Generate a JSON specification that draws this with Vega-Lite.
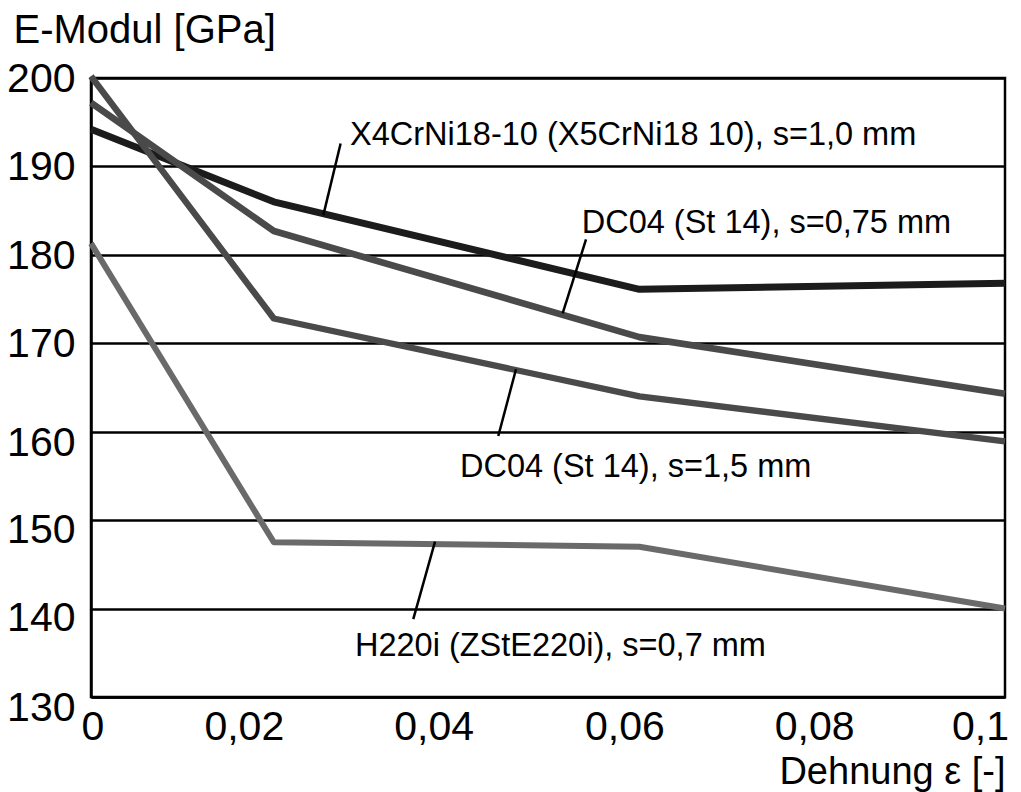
{
  "$schema": "https://vega.github.io/schema/vega-lite/v6.json",
  "autosize": {"type": "none"},
  "width": 914,
  "height": 619,
  "padding": {"left": 91, "top": 78, "right": 16, "bottom": 95},
  "background": "white",
  "config": {
    "view": {"stroke": "black", "strokeWidth": 2.5},
    "font": "Liberation Sans",
    "axis": {"labelFont": "Liberation Sans", "titleFont": "Liberation Sans", "labelColor": "black", "titleColor": "black", "titleFontWeight": "normal"}
  },
  "datasets": {
    "curves": [
      {"series": "X4CrNi18-10", "eps": 0, "E": 194.2},
      {"series": "X4CrNi18-10", "eps": 0.02, "E": 186.0},
      {"series": "X4CrNi18-10", "eps": 0.06, "E": 176.1},
      {"series": "X4CrNi18-10", "eps": 0.1, "E": 176.8},
      {"series": "DC04 0,75", "eps": 0, "E": 197.2},
      {"series": "DC04 0,75", "eps": 0.02, "E": 182.7},
      {"series": "DC04 0,75", "eps": 0.06, "E": 170.7},
      {"series": "DC04 0,75", "eps": 0.1, "E": 164.3},
      {"series": "DC04 1,5", "eps": 0, "E": 200.2},
      {"series": "DC04 1,5", "eps": 0.02, "E": 172.8},
      {"series": "DC04 1,5", "eps": 0.06, "E": 164.0},
      {"series": "DC04 1,5", "eps": 0.1, "E": 158.9},
      {"series": "H220i", "eps": 0, "E": 181.3},
      {"series": "H220i", "eps": 0.02, "E": 147.5},
      {"series": "H220i", "eps": 0.06, "E": 147.0},
      {"series": "H220i", "eps": 0.1, "E": 140.0}
    ],
    "labels": [
      {"label": "X4CrNi18-10 (X5CrNi18 10), s=1,0 mm", "eps": 0.02834, "E": 192.4},
      {"label": "DC04 (St 14), s=0,75 mm", "eps": 0.05369, "E": 182.42},
      {"label": "DC04 (St 14), s=1,5 mm", "eps": 0.04037, "E": 154.92},
      {"label": "H220i (ZStE220i), s=0,7 mm", "eps": 0.02888, "E": 134.58}
    ],
    "leaders": [
      {"eps": 0.02731, "E": 192.59, "eps2": 0.02542, "E2": 184.49},
      {"eps": 0.05416, "E": 181.74, "eps2": 0.0516, "E2": 173.38},
      {"eps": 0.0465, "E": 167.06, "eps2": 0.04456, "E2": 159.52},
      {"eps": 0.03764, "E": 147.58, "eps2": 0.03526, "E2": 138.81}
    ]
  },
  "layer": [
    {
      "data": {"name": "curves"},
      "mark": {"type": "line", "strokeJoin": "round", "strokeCap": "butt"},
      "encoding": {
        "x": {
          "field": "eps", "type": "quantitative",
          "scale": {"domain": [0, 0.1], "nice": false, "zero": false},
          "axis": {
            "values": [0, 0.02, 0.04, 0.06, 0.08, 0.1],
            "labelExpr": "replace(format(datum.value, '~g'), '.', ',')",
            "grid": false,
            "ticks": false,
            "domainColor": "black",
            "domainWidth": 2.5,
            "labelFontSize": 41,
            "labelPadding": 10,
            "labelBaseline": "top",
            "labelAlign": "center",
            "labelFlush": false,
            "labelOverlap": false,
            "labelOffset": {
              "condition": [
                {"test": "abs(datum.value) < 0.001", "value": 1.5},
                {"test": "abs(datum.value - 0.02) < 0.001", "value": -30},
                {"test": "abs(datum.value - 0.04) < 0.001", "value": -23},
                {"test": "abs(datum.value - 0.06) < 0.001", "value": -15},
                {"test": "abs(datum.value - 0.08) < 0.001", "value": -8}
              ],
              "value": -25
            },
            "title": "Dehnung ε [-]",
            "titleFontSize": 38,
            "titleAnchor": "end",
            "titleAlign": "right",
            "titleBaseline": "alphabetic",
            "titleX": 914,
            "titleY": 86
          }
        },
        "y": {
          "field": "E", "type": "quantitative",
          "scale": {"domain": [130, 200], "nice": false, "zero": false},
          "axis": {
            "values": [130, 140, 150, 160, 170, 180, 190, 200],
            "grid": true,
            "gridColor": "black",
            "gridWidth": 2.5,
            "gridOpacity": 1,
            "ticks": false,
            "domainColor": "black",
            "domainWidth": 2.5,
            "labelFontSize": 41,
            "labelPadding": 16,
            "labelOverlap": false,
            "labelOffset": {
              "condition": [
                {"test": "datum.value == 130", "value": 11},
                {"test": "datum.value == 140", "value": 10},
                {"test": "datum.value == 150", "value": 10},
                {"test": "datum.value == 160", "value": 12}
              ],
              "value": 1.5
            },
            "title": "E-Modul [GPa]",
            "titleFontSize": 40,
            "titleAngle": 0,
            "titleAlign": "left",
            "titleBaseline": "alphabetic",
            "titleX": -78,
            "titleY": -36
          }
        },
        "color": {
          "field": "series", "type": "nominal",
          "scale": {"domain": ["X4CrNi18-10", "DC04 0,75", "DC04 1,5", "H220i"], "range": ["#1c1c1c", "#4a4a4a", "#4a4a4a", "#6a6a6a"]},
          "legend": null
        },
        "strokeWidth": {
          "field": "series", "type": "nominal",
          "scale": {"domain": ["X4CrNi18-10", "DC04 0,75", "DC04 1,5", "H220i"], "range": [7, 6, 6, 6]},
          "legend": null
        }
      }
    },
    {
      "data": {"name": "leaders"},
      "mark": {"type": "rule", "color": "black", "strokeWidth": 2.5},
      "encoding": {
        "x": {"field": "eps", "type": "quantitative"},
        "y": {"field": "E", "type": "quantitative"},
        "x2": {"field": "eps2"},
        "y2": {"field": "E2"}
      }
    },
    {
      "data": {"name": "labels"},
      "mark": {"type": "text", "align": "left", "baseline": "alphabetic", "fontSize": 32.5, "font": "Liberation Sans", "color": "black"},
      "encoding": {
        "x": {"field": "eps", "type": "quantitative"},
        "y": {"field": "E", "type": "quantitative"},
        "text": {"field": "label"}
      }
    }
  ]
}
